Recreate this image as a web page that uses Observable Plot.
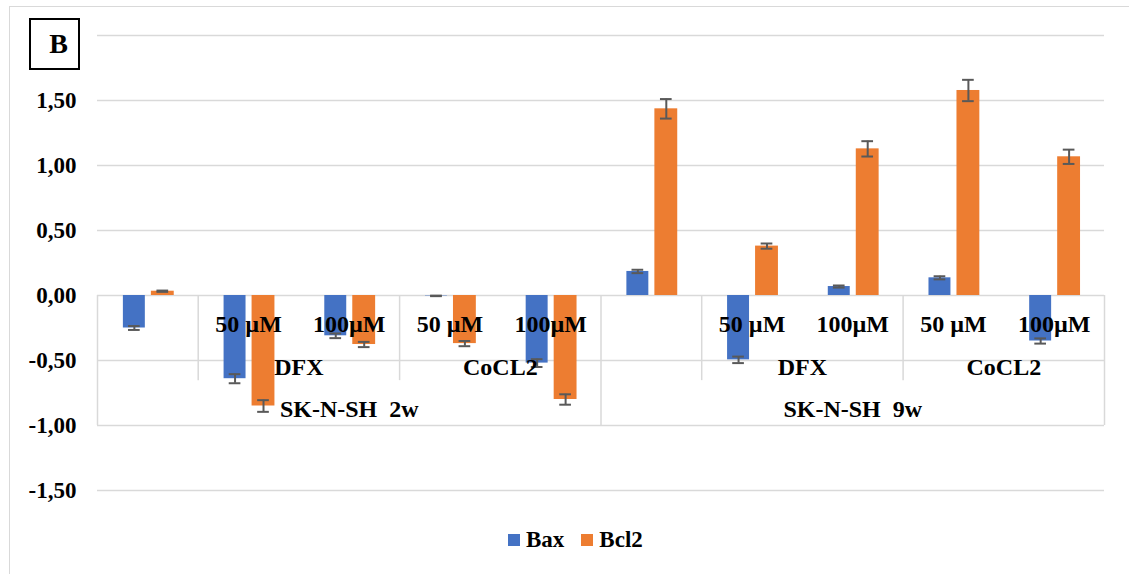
<!DOCTYPE html>
<html>
<head>
<meta charset="utf-8">
<script src="https://cdn.jsdelivr.net/npm/d3@7"></script>
<script src="https://cdn.jsdelivr.net/npm/@observablehq/plot@0.6"></script>
<style>
  html, body { margin: 0; padding: 0; background: #fff; }
  body { width: 1129px; height: 574px; position: relative; overflow: hidden; font-family: "Liberation Serif", "Times New Roman", serif; }
  #frame { position: absolute; left: 9px; top: 6px; width: 1200px; height: 620px; border: 1.5px solid #d9d9d9; box-sizing: border-box; }
  #chart { position: absolute; left: 0; top: 0; }
  #badge { position: absolute; left: 29px; top: 18px; width: 51px; height: 52px; border: 2px solid #000; box-sizing: border-box; background: #fff;
           font-weight: bold; font-size: 28px; display: flex; align-items: center; justify-content: center; padding-left: 8px; }
  #legend { position: absolute; left: 508px; top: 527px; display: flex; align-items: center; font-weight: bold; font-size: 23px; color: #000; }
  .sw { width: 12px; height: 12px; display: inline-block; margin-right: 6px; }
  .item { display: flex; align-items: center; margin-right: 17px; }
</style>
</head>
<body>
<div id="frame"></div>
<div id="chart"></div>
<div id="badge">B</div>
<div id="legend"></div>
<script>
// ---- data ----
const seriesNames = ["Bax", "Bcl2"];
const seriesColors = ["#4472C4", "#ED7D31"];
const doses      = ["", "50 µM", "100µM", "50 µM", "100µM", "", "50 µM", "100µM", "50 µM", "100µM"];
const treatments = ["", "DFX", "DFX", "CoCL2", "CoCL2", "", "DFX", "DFX", "CoCL2", "CoCL2"];
const cellLines  = ["SK-N-SH  2w", "SK-N-SH  2w", "SK-N-SH  2w", "SK-N-SH  2w", "SK-N-SH  2w",
                    "SK-N-SH  9w", "SK-N-SH  9w", "SK-N-SH  9w", "SK-N-SH  9w", "SK-N-SH  9w"];
const baxValues  = [-0.25, -0.64, -0.31, -0.003, -0.52, 0.185, -0.495, 0.069, 0.136, -0.35];
const baxErrors  = [0.015, 0.035, 0.018, 0.002, 0.03, 0.013, 0.025, 0.008, 0.012, 0.02];
const bcl2Values = [0.033, -0.85, -0.377, -0.37, -0.80, 1.436, 0.38, 1.128, 1.577, 1.067];
const bcl2Errors = [0.005, 0.045, 0.02, 0.02, 0.04, 0.075, 0.02, 0.059, 0.082, 0.055];
const yTicks = [-1.5, -1.0, -0.5, 0, 0.5, 1.0, 1.5];
const gridValues = [-1.5, -1.0, -0.5, 0, 0.5, 1.0, 1.5, 2.0];

// ---- derived tables ----
const barOffsets = [[0.257, 0.475], [0.535, 0.762]];
const bars = [];
doses.forEach((d, i) => {
  [baxValues, bcl2Values].forEach((vals, s) => {
    const errs = s === 0 ? baxErrors : bcl2Errors;
    bars.push({i, s, value: vals[i], err: errs[i],
      x1: i + barOffsets[s][0], x2: i + barOffsets[s][1],
      xc: i + (barOffsets[s][0] + barOffsets[s][1]) / 2});
  });
});
function spans(arr) {
  const out = [];
  arr.forEach((v, i) => {
    const last = out[out.length - 1];
    if (last && last.label === v && arr[i - 1] === v) last.end = i + 1;
    else out.push({label: v, start: i, end: i + 1});
  });
  return out;
}
const treatSpans = spans(treatments.map((t, i) => cellLines[i] + "|" + t)).map(s => ({...s, label: s.label.split("|")[1]}));
const lineSpans = spans(cellLines);
const fullDividers = [0, ...lineSpans.map(s => s.end)];
const subDividers = treatSpans.filter(s => s.start !== 0 && !fullDividers.includes(s.start)).map(s => s.start);
const fmt = d => (d < 0 ? "-" : "") + Math.abs(d).toFixed(2).replace(".", ",");

const font = "Liberation Serif, Times New Roman, serif";
const chart = Plot.plot({
  width: 1129,
  height: 520,
  marginLeft: 97,
  marginRight: 25,
  marginTop: 35,
  marginBottom: 30,
  style: {fontFamily: font, background: "transparent", overflow: "visible"},
  x: {domain: [0, doses.length], axis: null},
  y: {domain: [-1.5, 2.0], axis: null},
  marks: [
    Plot.ruleY(gridValues, {stroke: "#d9d9d9", strokeWidth: 1.5}),
    Plot.ruleX(fullDividers, {y1: 0, y2: -1.0, stroke: "#d9d9d9", strokeWidth: 1.5}),
    Plot.ruleX(subDividers, {y1: 0, y2: -0.655, stroke: "#d9d9d9", strokeWidth: 1.5}),
    Plot.rect(bars, {x1: "x1", x2: "x2", y1: 0, y2: "value", fill: d => seriesColors[d.s]}),
    Plot.ruleX(bars, {x: "xc", y1: d => d.value - d.err, y2: d => d.value + d.err, stroke: "#595959", strokeWidth: 2}),
    Plot.ruleY(bars, {x1: d => d.xc - 0.058, x2: d => d.xc + 0.058, y: d => d.value - d.err, stroke: "#595959", strokeWidth: 2}),
    Plot.ruleY(bars, {x1: d => d.xc - 0.058, x2: d => d.xc + 0.058, y: d => d.value + d.err, stroke: "#595959", strokeWidth: 2}),
    Plot.axisY(yTicks, {label: null, tickSize: 0, tickPadding: 21, tickFormat: fmt, fontSize: 23, fontWeight: "bold", fill: "#000", fontFamily: font}),
    Plot.text(doses.map((d, i) => ({label: d, x: i + 0.5})).filter(d => d.label), {x: "x", frameAnchor: "top", dy: 289, text: "label", fontSize: 24, fontWeight: "bold", fill: "#000", lineAnchor: "middle"}),
    Plot.text(treatSpans.filter(s => s.label), {x: d => (d.start + d.end) / 2, frameAnchor: "top", dy: 332, text: "label", fontSize: 24, fontWeight: "bold", fill: "#000", lineAnchor: "middle"}),
    Plot.text(lineSpans, {x: d => (d.start + d.end) / 2, frameAnchor: "top", dy: 374, text: "label", fontSize: 24, fontWeight: "bold", fill: "#000", lineAnchor: "middle"})
  ]
});
chart.querySelectorAll("text").forEach(t => t.setAttribute("xml:space", "preserve"));
document.getElementById("chart").appendChild(chart);

const legend = document.getElementById("legend");
seriesNames.forEach((n, k) => {
  const item = document.createElement("div");
  item.className = "item";
  item.innerHTML = `<span class="sw" style="background:${seriesColors[k]}"></span><span>${n}</span>`;
  legend.appendChild(item);
});
</script>
</body>
</html>
